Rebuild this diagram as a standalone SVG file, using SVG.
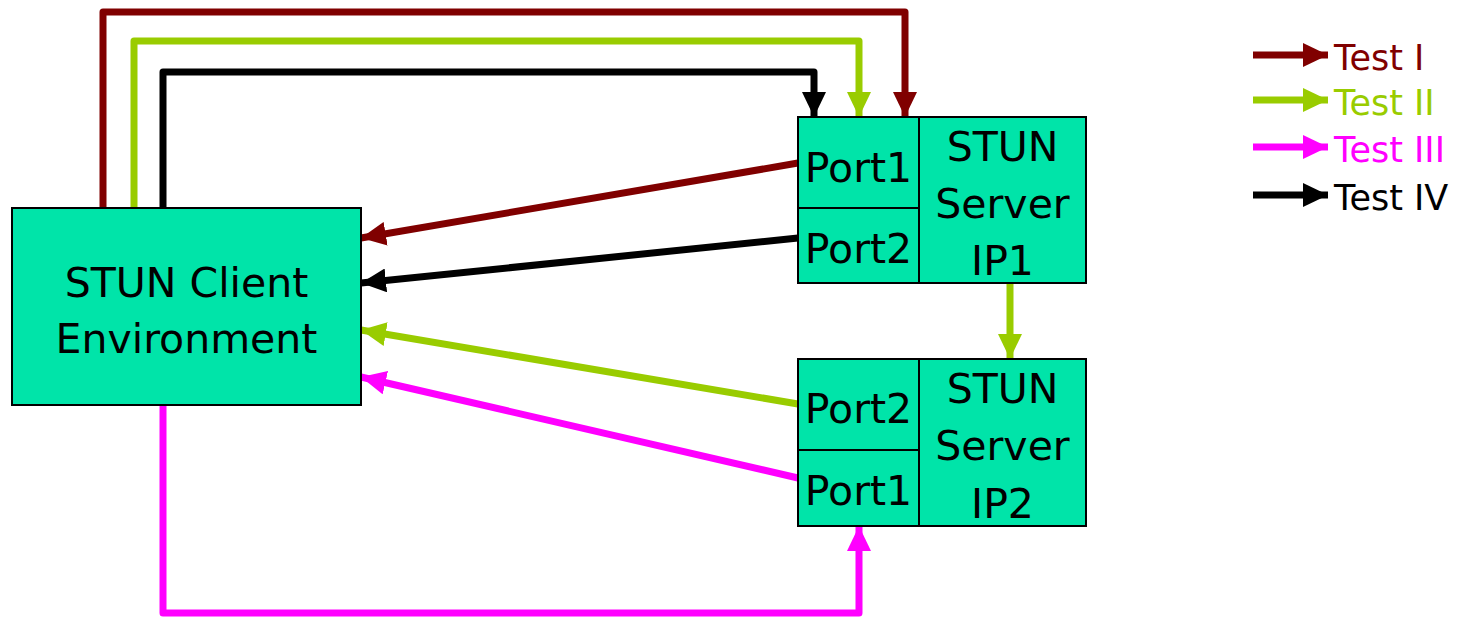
<svg xmlns="http://www.w3.org/2000/svg" width="1460" height="621" viewBox="0 0 1460 621">
  <style>
    .box { fill: #00E4A9; stroke: #000; stroke-width: 2; }
    .div { stroke: #000; stroke-width: 2; fill: none; }
    .lbl { font-family: "DejaVu Sans", "Liberation Sans", sans-serif; font-size: 41px; fill: #000; text-anchor: middle; }
    .leg { font-family: "DejaVu Sans", "Liberation Sans", sans-serif; font-size: 35px; }
    .w { fill: none; stroke-width: 7; stroke-linejoin: round; }
    .t1 { stroke: #800000; }
    .t2 { stroke: #99CC00; }
    .t3 { stroke: #FF00FF; }
    .t4 { stroke: #000000; }
  </style>
  <defs>
    <marker id="hRed" markerUnits="userSpaceOnUse" markerWidth="25" markerHeight="24" refX="25" refY="12" orient="auto">
      <path d="M0,0 L25,12 L0,24 Z" fill="#800000"/>
    </marker>
    <marker id="hGreen" markerUnits="userSpaceOnUse" markerWidth="25" markerHeight="24" refX="25" refY="12" orient="auto">
      <path d="M0,0 L25,12 L0,24 Z" fill="#99CC00"/>
    </marker>
    <marker id="hMag" markerUnits="userSpaceOnUse" markerWidth="25" markerHeight="24" refX="25" refY="12" orient="auto">
      <path d="M0,0 L25,12 L0,24 Z" fill="#FF00FF"/>
    </marker>
    <marker id="hBlack" markerUnits="userSpaceOnUse" markerWidth="25" markerHeight="24" refX="25" refY="12" orient="auto">
      <path d="M0,0 L25,12 L0,24 Z" fill="#000000"/>
    </marker>
  </defs>

  <!-- connectors -->
  <g id="connectors">
    <!-- Test I -->
    <path class="w t1" d="M103,208 V12 H905 V117" marker-end="url(#hRed)"/>
    <path class="w t1" d="M798,163 L361,238" marker-end="url(#hRed)"/>
    <!-- Test II -->
    <path class="w t2" d="M134,208 V41 H859 V117" marker-end="url(#hGreen)"/>
    <path class="w t2" d="M1010,283 V359" marker-end="url(#hGreen)"/>
    <path class="w t2" d="M798,404 L361,330" marker-end="url(#hGreen)"/>
    <!-- Test III -->
    <path class="w t3" d="M163,405 V613 H859 V526" marker-end="url(#hMag)"/>
    <path class="w t3" d="M798,478 L361,377" marker-end="url(#hMag)"/>
    <!-- Test IV -->
    <path class="w t4" d="M163,208 V72 H814 V117" marker-end="url(#hBlack)"/>
    <path class="w t4" d="M798,238 L361,283" marker-end="url(#hBlack)"/>
  </g>

  <!-- client -->
  <g id="client">
    <rect class="box" x="12" y="208" width="349" height="197"/>
    <text class="lbl" x="186.5" y="297">STUN Client</text>
    <text class="lbl" x="186.5" y="353">Environment</text>
  </g>

  <!-- server at IP1 -->
  <g id="server-ip1">
    <rect class="box" x="798" y="117" width="288" height="166"/>
    <line class="div" x1="919" y1="117" x2="919" y2="283"/>
    <line class="div" x1="798" y1="208" x2="919" y2="208"/>
    <text class="lbl" x="858.5" y="182">Port1</text>
    <text class="lbl" x="858.5" y="263">Port2</text>
    <text class="lbl" x="1002.5" y="161">STUN</text>
    <text class="lbl" x="1002.5" y="218">Server</text>
    <text class="lbl" x="1002.5" y="275">IP1</text>
  </g>

  <!-- server at IP2 -->
  <g id="server-ip2">
    <rect class="box" x="798" y="359" width="288" height="167"/>
    <line class="div" x1="919" y1="359" x2="919" y2="526"/>
    <line class="div" x1="798" y1="450" x2="919" y2="450"/>
    <text class="lbl" x="858.5" y="423">Port2</text>
    <text class="lbl" x="858.5" y="505">Port1</text>
    <text class="lbl" x="1002.5" y="403">STUN</text>
    <text class="lbl" x="1002.5" y="460">Server</text>
    <text class="lbl" x="1002.5" y="518">IP2</text>
  </g>

  <!-- legend -->
  <g id="legend">
    <path class="w t1" d="M1253,55 H1328" marker-end="url(#hRed)"/>
    <text class="leg" x="1334" y="70" fill="#800000">Test I</text>
    <path class="w t2" d="M1253,100 H1328" marker-end="url(#hGreen)"/>
    <text class="leg" x="1334" y="115" fill="#99CC00">Test II</text>
    <path class="w t3" d="M1253,147 H1328" marker-end="url(#hMag)"/>
    <text class="leg" x="1334" y="162" fill="#FF00FF">Test III</text>
    <path class="w t4" d="M1253,195 H1328" marker-end="url(#hBlack)"/>
    <text class="leg" x="1334" y="210" fill="#000000">Test IV</text>
  </g>
</svg>
